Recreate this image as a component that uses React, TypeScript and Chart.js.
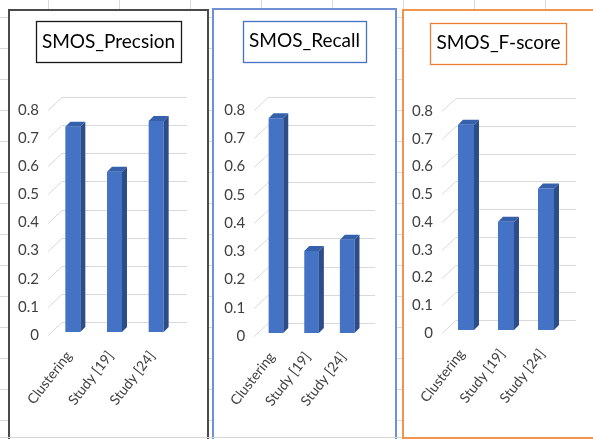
import { useEffect, useRef } from "react";
import { Chart, registerables } from "chart.js";

Chart.register(...registerables);

// ---- data ----
const categories = ["Clustering", "Study [19]", "Study [24]"];
const precisionValues = [0.73, 0.57, 0.75];
const recallValues = [0.76, 0.29, 0.33];
const fScoreValues = [0.74, 0.39, 0.51];
const yMin = 0;
const yMax = 0.8;
const yStep = 0.1;

// ---- styling ----
const FONT = "Lato, 'Open Sans', 'DejaVu Sans', sans-serif";
const BAR_FRONT = "#4472C4";
const BAR_SIDE = "#2C4D8A";
const BAR_TOP = "#3560AC";
const GRID = "#d9d9d9";

// depth of the back wall and of the bars (pixels)
const WALL_DX = 14;
const WALL_DY = 13;
const BAR_SHIFT_X = 4;
const BAR_SHIFT_Y = 3;
const BAR_DX = 5;
const BAR_DY = 5;

const TITLE_SIZE = 19;
const TITLE_LH = 1.2;

type Area = { left: number; right: number; top: number; bottom: number };

type PanelSpec = {
  title: string;
  values: number[];
  frame: { left: number; top: number; width: number; height: number };
  borderColor: string;
  borderWidth: number;
  titleBorder: string;
  titleCenter: number;
  area: Area;
  barPct: number;
};

const panels: PanelSpec[] = [
  {
    title: "SMOS_Precsion",
    values: precisionValues,
    frame: { left: 8, top: 9, width: 201, height: 440 },
    borderColor: "#4a4a4a",
    borderWidth: 2,
    titleBorder: "#1a1a1a",
    titleCenter: 30.5,
    area: { left: 38, right: 163, top: 99, bottom: 324 },
    barPct: 0.36,
  },
  {
    title: "SMOS_Recall",
    values: recallValues,
    frame: { left: 212, top: 8, width: 185, height: 440 },
    borderColor: "#6f90d2",
    borderWidth: 2,
    titleBorder: "#4472C4",
    titleCenter: 31,
    area: { left: 39, right: 147, top: 100, bottom: 326 },
    barPct: 0.41,
  },
  {
    title: "SMOS_F-score",
    values: fScoreValues,
    frame: { left: 402, top: 9, width: 193, height: 430 },
    borderColor: "#F2934E",
    borderWidth: 2,
    titleBorder: "#ED7D31",
    titleCenter: 32,
    area: { left: 38, right: 158, top: 100, bottom: 322 },
    barPct: 0.4,
  },
];

// Back-wall gridlines plus the extruded sides/tops of the bars.
const depthPlugin = {
  id: "depth3d",
  beforeDatasetsDraw(chart: any) {
    const { ctx, chartArea, scales } = chart;
    const y = scales.y;
    ctx.save();
    ctx.strokeStyle = GRID;
    ctx.lineWidth = 1;
    y.ticks.forEach((t: any) => {
      const py = Math.round(y.getPixelForValue(t.value)) + 0.5;
      ctx.beginPath();
      ctx.moveTo(chartArea.left, py);
      ctx.lineTo(chartArea.left + WALL_DX, py - WALL_DY);
      ctx.lineTo(chartArea.right + WALL_DX, py - WALL_DY);
      ctx.stroke();
    });
    ctx.restore();
    ctx.save();
    ctx.translate(BAR_SHIFT_X, -BAR_SHIFT_Y);
  },
  afterDatasetsDraw(chart: any) {
    const { ctx } = chart;
    chart.getDatasetMeta(0).data.forEach((bar: any) => {
      const { x, y, base, width } = bar.getProps(["x", "y", "base", "width"], true);
      const l = x - width / 2;
      const r = x + width / 2;
      ctx.fillStyle = BAR_SIDE;
      ctx.beginPath();
      ctx.moveTo(r, y);
      ctx.lineTo(r + BAR_DX, y - BAR_DY);
      ctx.lineTo(r + BAR_DX, base - BAR_DY);
      ctx.lineTo(r, base);
      ctx.closePath();
      ctx.fill();
      ctx.fillStyle = BAR_TOP;
      ctx.beginPath();
      ctx.moveTo(l, y);
      ctx.lineTo(l + BAR_DX, y - BAR_DY);
      ctx.lineTo(r + BAR_DX, y - BAR_DY);
      ctx.lineTo(r, y);
      ctx.closePath();
      ctx.fill();
    });
    ctx.restore();
  },
};

// Outlined box around the chart title.
const titleBoxPlugin = {
  id: "titleBox",
  afterDraw(chart: any, _args: any, opts: any) {
    const { ctx } = chart;
    const title = chart.options.plugins.title;
    const tb = chart.titleBlock;
    ctx.save();
    ctx.font = `${TITLE_SIZE}px ${FONT}`;
    const w = ctx.measureText(title.text).width;
    const cx = tb.left + tb.width / 2;
    const cy = tb.top + title.padding.top + (TITLE_SIZE * TITLE_LH) / 2;
    ctx.strokeStyle = opts.color;
    ctx.lineWidth = 1.3;
    ctx.strokeRect(Math.round(cx - w / 2 - 6) + 0.5, Math.round(cy - 20.5) + 0.5, Math.round(w + 12), 41);
    ctx.restore();
  },
};

function Panel({ spec }: { spec: PanelSpec }) {
  const ref = useRef<HTMLCanvasElement | null>(null);
  const cw = spec.frame.width - spec.borderWidth * 2;
  const ch = spec.frame.height - spec.borderWidth * 2;

  useEffect(() => {
    if (!ref.current) return;
    const lh = TITLE_SIZE * TITLE_LH;
    const padTop = spec.titleCenter - lh / 2;
    const padBottom = spec.area.top - padTop - lh;
    const chart = new Chart(ref.current, {
      type: "bar",
      data: {
        labels: categories,
        datasets: [
          {
            data: spec.values,
            backgroundColor: BAR_FRONT,
            borderWidth: 0,
            barPercentage: spec.barPct,
            categoryPercentage: 1,
          },
        ],
      },
      options: {
        responsive: false,
        animation: false,
        events: [],
        layout: { padding: 0 },
        plugins: {
          legend: { display: false },
          tooltip: { enabled: false },
          title: {
            display: true,
            text: spec.title,
            color: "#000000",
            font: { family: FONT, size: TITLE_SIZE, weight: "normal", lineHeight: TITLE_LH },
            padding: { top: padTop, bottom: padBottom },
          },
          titleBox: { color: spec.titleBorder },
        } as any,
        scales: {
          x: {
            grid: { display: false, drawTicks: false },
            border: { display: false },
            ticks: {
              color: "#404040",
              font: { family: FONT, size: 14 },
              minRotation: 52,
              maxRotation: 52,
              autoSkip: false,
              padding: 13,
            },
            afterFit: (scale: any) => {
              scale.height = ch - spec.area.bottom;
            },
          },
          y: {
            min: yMin,
            max: yMax,
            grid: { display: false, drawTicks: false },
            border: { display: false },
            ticks: {
              stepSize: yStep,
              color: "#404040",
              font: { family: FONT, size: 15 },
              padding: 9,
              callback: (v: any) => String(Number(Number(v).toFixed(1))),
            },
            afterFit: (scale: any) => {
              scale.width = spec.area.left;
            },
          },
          // empty strip on the right that holds the back wall's depth
          depthGutter: {
            type: "linear",
            position: "right",
            display: true,
            grid: { display: false, drawTicks: false },
            border: { display: false },
            ticks: { display: false },
            afterFit: (scale: any) => {
              scale.width = cw - spec.area.right;
            },
          },
        } as any,
      },
      plugins: [depthPlugin, titleBoxPlugin],
    });
    return () => chart.destroy();
  }, [spec, cw, ch]);

  return (
    <div
      style={{
        position: "absolute",
        left: spec.frame.left,
        top: spec.frame.top,
        width: spec.frame.width,
        height: spec.frame.height,
        boxSizing: "border-box",
        border: `${spec.borderWidth}px solid ${spec.borderColor}`,
        background: "#ffffff",
      }}
    >
      <canvas ref={ref} width={cw} height={ch} style={{ display: "block", width: cw, height: ch }} />
    </div>
  );
}

export default function App() {
  return (
    <div
      style={{
        position: "absolute",
        left: 0,
        top: 0,
        width: 593,
        height: 439,
        overflow: "hidden",
        background: "#ffffff",
        backgroundImage:
          "linear-gradient(to bottom, #dadada 1px, transparent 1px), linear-gradient(to right, #dadada 1px, transparent 1px)",
        backgroundSize: "100% 31px, 71px 100%",
        backgroundPosition: "0 17px, 48px 0",
      }}
    >
      {panels.map((p) => (
        <Panel key={p.title} spec={p} />
      ))}
      <div style={{ position: "absolute", left: 0, top: 437, width: 402, height: 1, background: "#d6d6d6" }} />
    </div>
  );
}
